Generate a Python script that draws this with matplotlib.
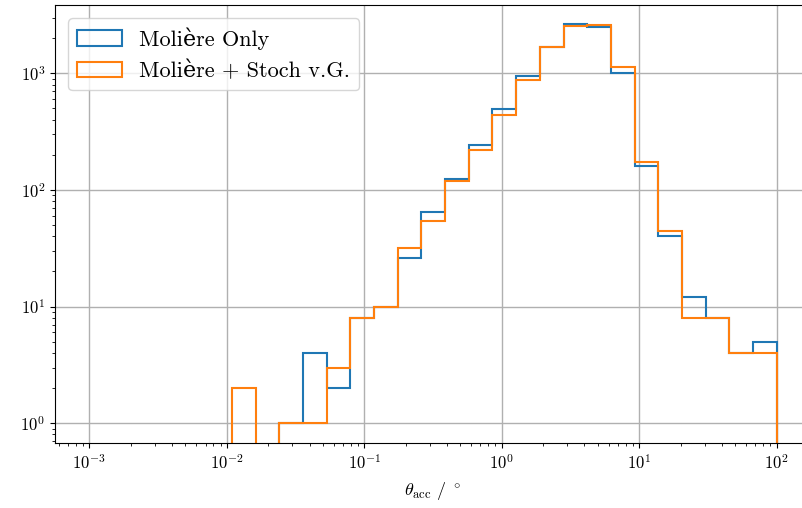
import numpy as np
import matplotlib
matplotlib.use("Agg")
import matplotlib.pyplot as plt

# log spaced bins
bin_lo = 0.0109
bin_hi = 100.0
n_bins = 23

# counts per bin
counts_moliere = [0, 0, 1, 4, 2, 8, 10, 26, 65, 125, 244, 490, 950, 1690, 2620,
                  2480, 1010, 161, 40, 12, 8, 4, 5]
counts_stoch = [2, 0, 1, 1, 3, 8, 10, 32, 54, 119, 219, 441, 875, 1690, 2560,
                2600, 1140, 173, 44, 8, 8, 4, 4]
labels = ["Molière Only", "Molière + Stoch v.G."]

# cmr10 has no è, so fall back to DejaVu Serif for that one
plt.rcParams['font.family'] = ['cmr10', 'DejaVu Serif']
plt.rcParams['mathtext.fontset'] = 'cm'
plt.rcParams['axes.formatter.use_mathtext'] = True
plt.rcParams['font.size'] = 12

edges = np.logspace(np.log10(bin_lo), np.log10(bin_hi), n_bins + 1)
centers = np.sqrt(edges[:-1] * edges[1:])

fig = plt.figure(figsize=(8.03, 5.08), dpi=100)
ax = fig.add_axes([55 / 803, 65 / 508, 756 / 803, 438 / 508])

ax.hist(centers, bins=edges, weights=counts_moliere, histtype='step',
        log=True, label=labels[0], color='C0', linewidth=1.5)
ax.hist(centers, bins=edges, weights=counts_stoch, histtype='step',
        log=True, label=labels[1], color='C1', linewidth=1.5)

ax.set_xscale('log')
ax.set_xlim(10 ** -3.25, 10 ** 2.25)
ax.set_ylim(10 ** -0.17, 10 ** 3.585)
ax.grid(True, which='major', color='#b0b0b0', linewidth=1.0)
ax.set_axisbelow(True)
ax.set_xlabel(r'$\theta_\mathrm{acc}\ /\ ^\circ$', fontsize=13, labelpad=6)
ax.tick_params(labelsize=12)
ax.legend(loc='upper left', fontsize=16, borderaxespad=0.6)

fig.savefig("out.png", dpi=100)
